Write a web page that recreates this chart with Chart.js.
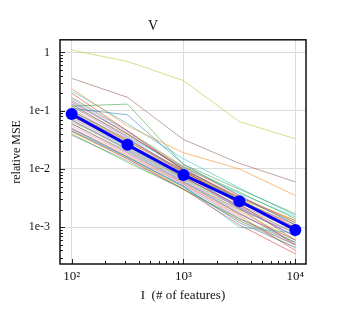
<!DOCTYPE html>
<html><head><meta charset="utf-8">
<script src="https://cdn.jsdelivr.net/npm/chart.js@4.4.1/dist/chart.umd.min.js"></script>
<style>html,body{margin:0;padding:0;background:#fff}#wrap{width:344px;height:331px}</style>
</head><body><div id="wrap"><canvas id="c" width="344" height="331"></canvas></div>
<script>
const features = [100, 316, 1000, 3162, 10000];
const meanMSE = [0.088, 0.026, 0.0079, 0.0028, 0.0009];
const yTickValues = [1e-3, 1e-2, 1e-1, 1];
const yTickLabels = ['1e-3', '1e-2', '1e-1', '1'];
const xTickValues = [100, 1000, 10000];
const xTickLabels = ['10²', '10³', '10⁴'];
const r01 = [0.11, 0.085, 0.012, 0.0035, 0.0011];
const r02 = [0.24, 0.055, 0.019, 0.0100, 0.0035];
const r03 = [0.12, 0.13, 0.012, 0.0045, 0.0017];
const r04 = [0.20, 0.045, 0.0095, 0.0025, 0.0006];
const r05 = [0.13, 0.035, 0.0085, 0.0022, 0.0007];
const r06 = [0.36, 0.17, 0.032, 0.0125, 0.0060];
const r07 = [0.07, 0.022, 0.0065, 0.0018, 0.0005];
const r08 = [0.06, 0.020, 0.0060, 0.0020, 0.0008];
const r09 = [1.10, 0.70, 0.33, 0.065, 0.033];
const r10 = [0.22, 0.060, 0.015, 0.0047, 0.0016];
const r11 = [0.05, 0.016, 0.0050, 0.0012, 0.00045];
const r12 = [0.09, 0.030, 0.0090, 0.0030, 0.0010];
const r13 = [0.04, 0.013, 0.0045, 0.0014, 0.00055];
const r14 = [0.045, 0.015, 0.0045, 0.0011, 0.00035];
const r15 = [0.085, 0.026, 0.0080, 0.0022, 0.0007];
const r16 = [0.10, 0.032, 0.0095, 0.0032, 0.0012];
const r17 = [0.055, 0.018, 0.0055, 0.0015, 0.0004];
const r18 = [0.075, 0.024, 0.0070, 0.0024, 0.0009];
const r19 = [0.065, 0.022, 0.0068, 0.0019, 0.0006];
const r20 = [0.045, 0.016, 0.0050, 0.0010, 0.0008];
const r21 = [0.15, 0.040, 0.0100, 0.0030, 0.0009];
const r22 = [0.12, 0.038, 0.0110, 0.0035, 0.0012];
const r23 = [0.17, 0.045, 0.0110, 0.0040, 0.0014];
const r24 = [0.08, 0.026, 0.0075, 0.0021, 0.0005];
const r25 = [0.095, 0.028, 0.0078, 0.0026, 0.0010];
const r26 = [0.06, 0.019, 0.0058, 0.0017, 0.0006];
const r27 = [0.11, 0.030, 0.0085, 0.0028, 0.0011];
const r28 = [0.038, 0.014, 0.0045, 0.0013, 0.0005];
const r29 = [0.09, 0.027, 0.0088, 0.0031, 0.0013];
const r30 = [0.13, 0.036, 0.0105, 0.0038, 0.0015];
const r31 = [0.07, 0.021, 0.0062, 0.0017, 0.00055];
const r32 = [0.05, 0.017, 0.0055, 0.0016, 0.0004];
const r33 = [0.10, 0.030, 0.0092, 0.0029, 0.0011];
const r34 = [0.14, 0.040, 0.0098, 0.0033, 0.0013];
const r35 = [0.048, 0.016, 0.0052, 0.0014, 0.0005];
const r36 = [0.082, 0.025, 0.0072, 0.0023, 0.0008];
const r37 = [0.16, 0.043, 0.0105, 0.0030, 0.0010];
const r38 = [0.12, 0.033, 0.0090, 0.0027, 0.0009];
const r39 = [0.043, 0.015, 0.0048, 0.0013, 0.00045];
const r40 = [0.068, 0.023, 0.0068, 0.0021, 0.0007];
const runs = [r01,r02,r03,r04,r05,r06,r07,r08,r09,r10,r11,r12,r13,r14,r15,r16,r17,r18,r19,r20,
              r21,r22,r23,r24,r25,r26,r27,r28,r29,r30,r31,r32,r33,r34,r35,r36,r37,r38,r39,r40];
const tab10 = ['rgba(31,119,180,0.6)','rgba(255,127,14,0.6)','rgba(44,160,44,0.6)','rgba(214,39,40,0.6)',
  'rgba(148,103,189,0.6)','rgba(140,86,75,0.6)','rgba(227,119,194,0.6)','rgba(127,127,127,0.6)',
  'rgba(188,189,34,0.6)','rgba(23,190,207,0.6)'];

const datasets = runs.map((r, i) => ({
  data: r.map((v, j) => ({x: features[j], y: v})),
  borderColor: tab10[i % 10], borderWidth: 0.9, pointRadius: 0, fill: false, order: 2
}));
datasets.push({
  data: meanMSE.map((v, j) => ({x: features[j], y: v})),
  borderColor: '#0000ff', backgroundColor: '#0000ff', borderWidth: 3,
  pointRadius: 6, pointBackgroundColor: '#0000ff', pointBorderWidth: 0, order: 1
});

function logTicks(min, max) {
  const t = [];
  for (let e = Math.floor(Math.log10(min)); e <= Math.ceil(Math.log10(max)); e++) {
    for (let m = 1; m < 10; m++) {
      const v = m * Math.pow(10, e);
      if (v >= min && v <= max) t.push({value: v, major: m === 1});
    }
  }
  return t;
}

const innerTicks = {
  id: 'innerTicks',
  afterDraw(chart) {
    const {ctx, chartArea: a, scales} = chart;
    ctx.save();
    ctx.strokeStyle = '#222'; ctx.lineWidth = 1;
    for (const t of scales.x.ticks) {
      const px = Math.round(scales.x.getPixelForValue(t.value)) + 0.5;
      const L = t.major ? 5 : 3;
      ctx.beginPath(); ctx.moveTo(px, a.bottom); ctx.lineTo(px, a.bottom - L); ctx.stroke();
    }
    for (const t of scales.y.ticks) {
      const py = Math.round(scales.y.getPixelForValue(t.value)) + 0.5;
      const L = t.major ? 5 : 3;
      ctx.beginPath(); ctx.moveTo(a.left, py); ctx.lineTo(a.left + L, py); ctx.stroke();
    }
    ctx.lineWidth = 1.5; ctx.strokeStyle = '#111';
    ctx.strokeRect(a.left, a.top, a.right - a.left, a.bottom - a.top);
    ctx.restore();
  }
};

const serif = "'Liberation Serif', 'DejaVu Serif', serif";
new Chart(document.getElementById('c'), {
  type: 'line',
  data: {datasets},
  options: {
    responsive: false, animation: false, devicePixelRatio: 1,
    layout: {padding: {left: 0, right: 38, top: 0, bottom: 28}},
    plugins: {
      legend: {display: false}, tooltip: {enabled: false},
      title: {display: true, text: 'V', color: '#111', font: {family: serif, size: 14, weight: 'normal'},
              padding: {top: 18, bottom: 5}}
    },
    scales: {
      x: {
        type: 'logarithmic', min: 78.7, max: 12450,
        afterBuildTicks(s) { s.ticks = logTicks(100, 10000); },
        afterFit(s) { s.height = 39; },
        ticks: {autoSkip: false, maxRotation: 0, padding: 5, color: '#111',
          font: {family: serif, size: 13},
          callback(v) { const i = xTickValues.indexOf(v); return i >= 0 ? xTickLabels[i] : ''; }},
        grid: {drawTicks: false, color: c => (c.tick && c.tick.major) ? '#dcdcdc' : 'rgba(0,0,0,0)', lineWidth: 1},
        border: {display: false},
        title: {display: true, text: 'I  (# of features)', color: '#111', font: {family: serif, size: 13}, padding: {top: 4, bottom: 0}}
      },
      y: {
        type: 'logarithmic', min: 0.000234, max: 1.65,
        afterBuildTicks(s) { s.ticks = logTicks(0.000234, 1.65); },
        afterFit(s) { s.width = 60; },
        ticks: {autoSkip: false, padding: 10, color: '#111', font: {family: serif, size: 12},
          callback(v) { const i = yTickValues.findIndex(t => Math.abs(t - v) / t < 1e-6); return i >= 0 ? yTickLabels[i] : ''; }},
        grid: {drawTicks: false, color: c => (c.tick && c.tick.major) ? '#dcdcdc' : 'rgba(0,0,0,0)', lineWidth: 1},
        border: {display: false},
        title: {display: true, text: 'relative MSE', color: '#111', font: {family: serif, size: 12}, padding: {top: 10, bottom: 4}}
      }
    }
  },
  plugins: [innerTicks]
});
</script></body></html>
